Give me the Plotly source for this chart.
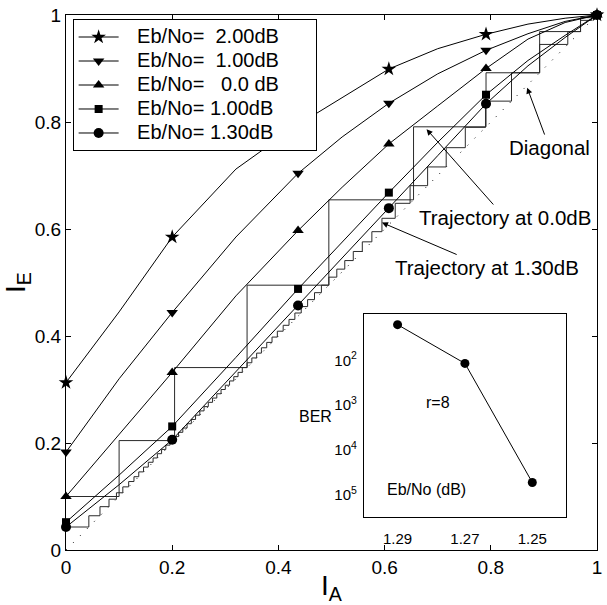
import plotly.graph_objects as go

# ---------------- data ----------------
IA_GRID = [0.0, 0.1, 0.2, 0.32, 0.437, 0.52, 0.608, 0.7, 0.791, 0.87, 0.94, 1.0]
MARKER_IDX = [0, 2, 4, 6, 8, 11]

IE_200 = [0.313, 0.445, 0.585, 0.712, 0.795, 0.846, 0.899, 0.937, 0.964, 0.983, 0.994, 1.0]
IE_100A = [0.183, 0.320, 0.444, 0.585, 0.704, 0.772, 0.835, 0.890, 0.934, 0.965, 0.988, 1.0]
IE_000 = [0.100, 0.215, 0.332, 0.475, 0.597, 0.678, 0.759, 0.830, 0.900, 0.955, 0.986, 1.0]
IE_100B = [0.052, 0.140, 0.231, 0.360, 0.488, 0.575, 0.668, 0.762, 0.851, 0.915, 0.962, 1.0]
IE_130 = [0.043, 0.122, 0.206, 0.333, 0.457, 0.545, 0.639, 0.737, 0.834, 0.905, 0.958, 1.0]

LEGEND_NAMES = ["Eb/No=  2.00dB", "Eb/No=  1.00dB", "Eb/No=   0.0 dB",
                "Eb/No= 1.00dB", "Eb/No= 1.30dB"]

# decoding trajectories: successive mutual-information levels
TRAJ_000 = [0.100, 0.2045, 0.341, 0.495, 0.6545, 0.791, 0.892, 0.969, 0.995, 1.0]
TRAJ_130 = [0.043, 0.064, 0.081, 0.095, 0.107, 0.118, 0.128, 0.137, 0.146, 0.155,
            0.164, 0.172, 0.180, 0.188, 0.196, 0.204, 0.212, 0.220, 0.228, 0.236,
            0.244, 0.252, 0.260, 0.268, 0.276, 0.284, 0.292, 0.300, 0.308, 0.316,
            0.324, 0.332, 0.341, 0.350, 0.359, 0.368, 0.378, 0.388, 0.398, 0.409,
            0.420, 0.431, 0.443, 0.455, 0.468, 0.481, 0.495, 0.510, 0.525, 0.541,
            0.558, 0.576, 0.595, 0.620, 0.648, 0.681, 0.716, 0.752, 0.790, 0.839,
            0.892, 0.945, 0.969, 0.990, 1.0]

DIAG = [0.0, 1.0]

# inset: BER vs Eb/No
EBNO = [1.29, 1.27, 1.25]
BER = [0.062, 0.0085, 1.9e-5]
EBNO_TICKS = [1.29, 1.27, 1.25]
BER_TICKS = [1e-2, 1e-3, 1e-4, 1e-5]
BER_TICKTEXT = ["10<sup>2</sup>", "10<sup>3</sup>", "10<sup>4</sup>", "10<sup>5</sup>"]

# ---------------- figure ----------------
FONT = "Liberation Sans, Arial, Helvetica, sans-serif"
NB = "\u00a0"

fig = go.Figure()

fig.add_trace(go.Scatter(x=DIAG, y=DIAG, mode="lines", showlegend=False,
                         line=dict(color="black", width=1, dash="1px,9px"),
                         hoverinfo="skip"))

for lev in (TRAJ_000, TRAJ_130):
    fig.add_trace(go.Scatter(x=[0.0] + lev[:-1], y=lev, mode="lines",
                             line=dict(color="#2a2a2a", width=1, shape="hv"),
                             showlegend=False, hoverinfo="skip"))

curves = [IE_200, IE_100A, IE_000, IE_100B, IE_130]
symbols = ["star", "triangle-down", "triangle-up", "square", "circle"]
sizes = [11, 10, 10, 8, 10]

for ie, sym, sz, name in zip(curves, symbols, sizes, LEGEND_NAMES):
    fig.add_trace(go.Scatter(x=IA_GRID, y=ie, mode="lines", showlegend=False,
                             line=dict(color="black", width=1), hoverinfo="skip"))
    mx, my = [], []
    for k in MARKER_IDX:
        mx += [IA_GRID[k], None]
        my += [ie[k], None]
    label = (NB * 3 + '<span style="font-size:20px">' + name.replace(" ", NB)
             + "</span>" + NB * 7)
    fig.add_trace(go.Scatter(x=mx, y=my, mode="lines+markers", name=label,
                             line=dict(color="black", width=1),
                             marker=dict(symbol=sym, size=sz, color="black",
                                         line=dict(width=0)),
                             cliponaxis=False))

# inset
fig.add_trace(go.Scatter(x=EBNO, y=BER, mode="lines+markers", xaxis="x2", yaxis="y2",
                         showlegend=False,
                         line=dict(color="black", width=1),
                         marker=dict(symbol="circle", size=9, color="black"),
                         cliponaxis=False))

axis_common = dict(showline=True, linecolor="black", linewidth=1, mirror="ticks",
                   ticks="inside", ticklen=5, tickcolor="black", showgrid=False,
                   zeroline=False, ticklabeloverflow="allow",
                   tickfont=dict(family=FONT, size=19, color="black"))

fig.update_layout(
    width=607, height=605,
    margin=dict(l=66, r=5, t=14, b=55),
    paper_bgcolor="white", plot_bgcolor="white",
    font=dict(family=FONT, color="black"),
    xaxis=dict(range=[0, 1], dtick=0.2, tick0=0,
               title=dict(text="I<sub>A</sub>", font=dict(size=28), standoff=0),
               **axis_common),
    yaxis=dict(range=[0, 1], dtick=0.2, tick0=0,
               title=dict(text="I<sub>E</sub>", font=dict(size=28), standoff=4),
               **axis_common),
    xaxis2=dict(domain=[0.561, 0.9416], anchor="y2", range=[1.30, 1.24],
                tickvals=EBNO_TICKS, ticktext=[f"{v:.2f}" for v in EBNO_TICKS],
                showline=True, mirror=True, linecolor="black", linewidth=1,
                ticks="", showgrid=False, zeroline=False, ticklabelstandoff=8,
                tickfont=dict(family=FONT, size=15, color="black")),
    yaxis2=dict(domain=[0.0616, 0.4403], anchor="x2", type="log", range=[-5.49, -0.98],
                tickvals=BER_TICKS, ticktext=BER_TICKTEXT,
                showline=True, mirror=True, linecolor="black", linewidth=1,
                ticks="", showgrid=False, zeroline=False, ticklabelstandoff=3,
                tickfont=dict(family=FONT, size=15, color="black")),
    legend=dict(x=0.0125, y=0.9925, xanchor="left", yanchor="top",
                bgcolor="white", bordercolor="black", borderwidth=1,
                font=dict(family=FONT, size=16.15, color="black"),
                itemwidth=40, tracegroupgap=0),
    showlegend=True,
)

ann_font = dict(family=FONT, size=20.5, color="black")
arrows = [
    ("Diagonal", 0.8685, 0.8642, 0.9104, 0.7522),
    ("Trajectory at 0.0dB", 0.679, 0.7866, 0.8265, 0.6215),
    ("Trajectory at 1.30dB", 0.595, 0.612, 0.793, 0.528),
]
for txt, hx, hy, tx, ty in arrows:
    fig.add_annotation(x=hx, y=hy, ax=tx, ay=ty, xref="x", yref="y", axref="x", ayref="y",
                       text=txt, showarrow=True, arrowhead=2, arrowsize=1.2,
                       arrowwidth=1, arrowcolor="black", font=ann_font)

inset_font = dict(family=FONT, size=16, color="black")
for txt, px, py in [("r=8", 0.7276, 0.2556), ("Eb/No (dB)", 0.7575, 0.0933),
                    ("BER", 0.4701, 0.2295)]:
    fig.add_annotation(x=px, y=py, xref="paper", yref="paper", text=txt,
                       showarrow=False, font=inset_font)

fig.write_html("out.html", config={"displayModeBar": False},
               post_script="document.body.style.margin='0';"
                           "document.body.style.overflow='hidden';")
